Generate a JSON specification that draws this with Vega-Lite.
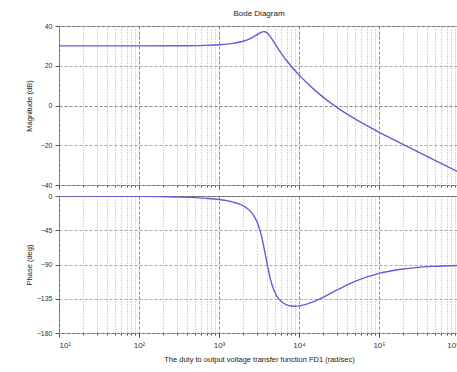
{
  "$schema": "https://vega.github.io/schema/vega-lite/v6.json",
  "background": "white",
  "padding": {"left": 24, "top": 9, "right": 0, "bottom": 2},
  "config": {
    "font": "Liberation Sans",
    "view": {"stroke": "#666", "strokeWidth": 1},
    "concat": {"spacing": 1},
    "axis": {
      "labelFontSize": 7, "labelColor": "#333", "titleFontSize": 7.5, "titleFontWeight": "normal", "titleColor": "#222",
      "domain": false, "tickColor": "#555", "labelPadding": 3,
      "gridColor": {"condition": {"test": "abs(log(abs(datum.value)+1e-9)/LN10 - round(log(abs(datum.value)+1e-9)/LN10)) < 0.001 || datum.value == 0", "value": "#888"}, "value": "#aaa"}
    }
  },
  "data": {"values": [
    {"w": 10, "mag": 30.0, "phase": -0.05},
    {"w": 100, "mag": 30.0, "phase": -0.43},
    {"w": 300, "mag": 30.05, "phase": -1.28},
    {"w": 700, "mag": 30.27, "phase": -3.1},
    {"w": 1000, "mag": 30.55, "phase": -4.67},
    {"w": 1500, "mag": 31.26, "phase": -7.98},
    {"w": 2000, "mag": 32.33, "phase": -12.84},
    {"w": 2500, "mag": 33.8, "phase": -20.7},
    {"w": 3000, "mag": 35.61, "phase": -34.45},
    {"w": 3300, "mag": 36.62, "phase": -47.4},
    {"w": 3600, "mag": 37.18, "phase": -64.45},
    {"w": 3850, "mag": 36.98, "phase": -80.3},
    {"w": 4100, "mag": 36.12, "phase": -95.2},
    {"w": 4400, "mag": 34.55, "phase": -109.45},
    {"w": 4800, "mag": 32.21, "phase": -122.3},
    {"w": 5300, "mag": 29.47, "phase": -131.8},
    {"w": 6000, "mag": 26.25, "phase": -138.7},
    {"w": 7000, "mag": 22.62, "phase": -143.0},
    {"w": 8000, "mag": 19.76, "phase": -144.54},
    {"w": 9000, "mag": 17.4, "phase": -144.8},
    {"w": 10000, "mag": 15.41, "phase": -144.43},
    {"w": 12000, "mag": 12.16, "phase": -142.7},
    {"w": 15000, "mag": 8.5, "phase": -139.2},
    {"w": 20000, "mag": 4.2, "phase": -133.2},
    {"w": 30000, "mag": -1.1, "phase": -123.5},
    {"w": 50000, "mag": -6.75, "phase": -112.2},
    {"w": 100000, "mag": -13.39, "phase": -101.7},
    {"w": 200000, "mag": -19.59, "phase": -95.9},
    {"w": 500000, "mag": -27.6, "phase": -92.4},
    {"w": 1000000, "mag": -33.62, "phase": -91.2}
  ]},
  "vconcat": [
    {
      "width": 400, "height": 159,
      "title": {"text": "Bode Diagram", "fontSize": 8, "fontWeight": "normal", "color": "#222", "frame": "group", "anchor": "middle", "offset": 4},
      "mark": {"type": "line", "color": "#5f5fd8", "strokeWidth": 1.4, "interpolate": "monotone", "clip": true},
      "encoding": {
        "x": {"field": "w", "type": "quantitative", "scale": {"type": "log", "domain": [10, 1000000], "nice": false},
          "axis": {"title": null, "labels": false,
            "values": [10,20,30,40,50,60,70,80,90,100,200,300,400,500,600,700,800,900,1000,2000,3000,4000,5000,6000,7000,8000,9000,10000,20000,30000,40000,50000,60000,70000,80000,90000,100000,200000,300000,400000,500000,600000,700000,800000,900000,1000000],
            "tickSize": {"condition": {"test": "abs(log(datum.value)/LN10 - round(log(datum.value)/LN10)) < 0.001", "value": 4}, "value": 2},
            "gridDash": {"condition": {"test": "abs(log(datum.value)/LN10 - round(log(datum.value)/LN10)) < 0.001", "value": [3, 2]}, "value": [1, 2]}
          }},
        "y": {"field": "mag", "type": "quantitative", "scale": {"domain": [-40, 40], "nice": false, "zero": false},
          "axis": {"title": "Magnitude (dB)", "values": [-40, -20, 0, 20, 40], "tickSize": 4, "gridDash": [3, 2], "titlePadding": 8, "minExtent": 18, "maxExtent": 18}}
      }
    },
    {
      "width": 400, "height": 137,
      "mark": {"type": "line", "color": "#5f5fd8", "strokeWidth": 1.4, "interpolate": "monotone", "clip": true},
      "encoding": {
        "x": {"field": "w", "type": "quantitative", "scale": {"type": "log", "domain": [10, 1000000], "nice": false},
          "axis": {"title": "The duty to output voltage transfer function FD1  (rad/sec)", "titlePadding": 6,
            "values": [10,20,30,40,50,60,70,80,90,100,200,300,400,500,600,700,800,900,1000,2000,3000,4000,5000,6000,7000,8000,9000,10000,20000,30000,40000,50000,60000,70000,80000,90000,100000,200000,300000,400000,500000,600000,700000,800000,900000,1000000],
            "labelExpr": "datum.value == 10 ? '10¹' : datum.value == 100 ? '10²' : datum.value == 1000 ? '10³' : datum.value == 10000 ? '10⁴' : datum.value == 100000 ? '10⁵' : datum.value == 1000000 ? '10⁶' : ''",
            "labelOverlap": false, "labelBound": false, "labelFontSize": 8, "labelPadding": 4,
            "tickSize": {"condition": {"test": "abs(log(datum.value)/LN10 - round(log(datum.value)/LN10)) < 0.001", "value": 4}, "value": 2},
            "gridDash": {"condition": {"test": "abs(log(datum.value)/LN10 - round(log(datum.value)/LN10)) < 0.001", "value": [3, 2]}, "value": [1, 2]}
          }},
        "y": {"field": "phase", "type": "quantitative", "scale": {"domain": [-180, 0], "nice": false, "zero": false},
          "axis": {"title": "Phase (deg)", "values": [-180, -135, -90, -45, 0], "tickSize": 4, "gridDash": [3, 2], "titlePadding": 8, "minExtent": 18, "maxExtent": 18}}
      }
    }
  ]
}
